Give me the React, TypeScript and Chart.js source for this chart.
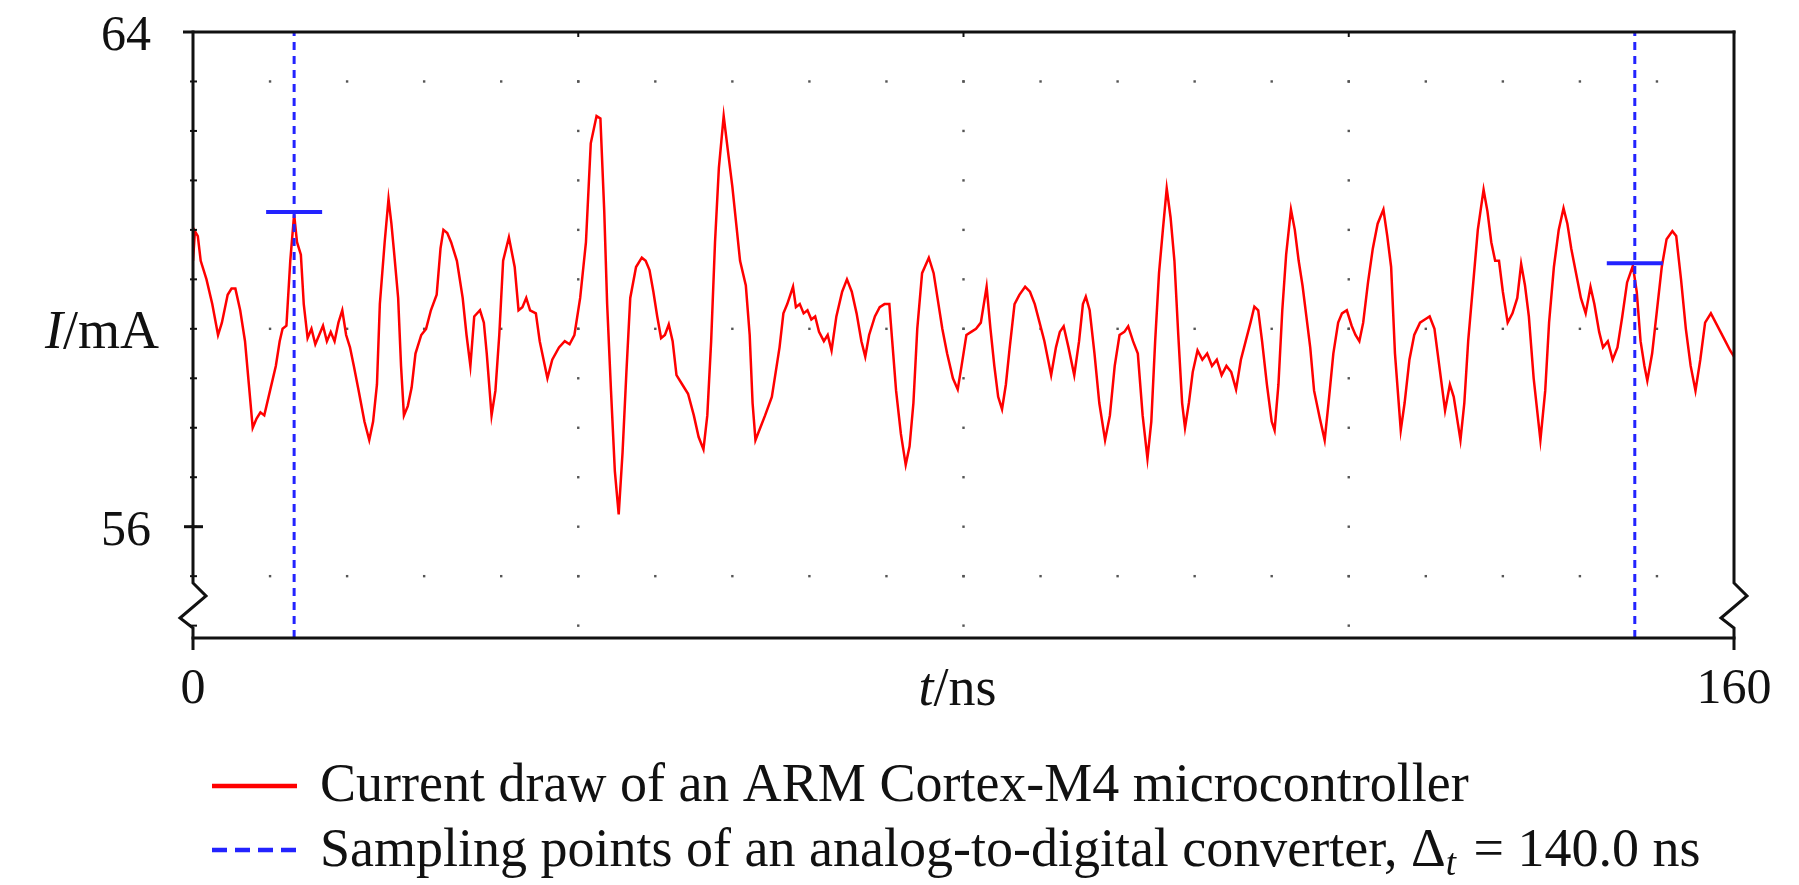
import React, { useEffect, useRef } from "react";
import { Chart, registerables } from "chart.js";

Chart.register(...registerables);

// ---------- data ----------
const traceTimeNs = [
  0.0, 0.2, 0.5, 0.8, 1.4, 2.0, 2.6, 3.0, 3.6, 4.0, 4.4, 4.9, 5.4, 5.8, 6.2, 6.6, 7.0, 7.4, 8.0, 8.6,
  9.0, 9.3, 9.7, 10.1, 10.5, 10.8, 11.2, 11.5, 11.9, 12.3, 12.7, 13.1, 13.5, 13.9, 14.3, 14.7, 15.1, 15.5, 15.9, 16.3,
  16.7, 17.2, 17.8, 18.3, 18.7, 19.1, 19.4, 19.9, 20.3, 20.6, 20.9, 21.3, 21.6, 21.9, 22.3, 22.7, 23.1, 23.7, 24.2, 24.7,
  25.3, 25.7, 26.0, 26.4, 26.8, 27.4, 28.0, 28.4, 28.8, 29.2, 29.8, 30.2, 30.5, 31.0, 31.4, 31.8, 32.2, 32.8, 33.4, 33.8,
  34.2, 34.6, 35.0, 35.6, 36.0, 36.8, 37.3, 38.0, 38.6, 39.1, 39.6, 40.2, 40.8, 41.3, 41.9, 42.3, 42.7, 43.0, 43.4, 43.8,
  44.2, 44.6, 45.0, 45.4, 46.0, 46.6, 47.0, 47.4, 47.8, 48.2, 48.6, 49.0, 49.4, 49.8, 50.2, 50.8, 51.4, 52.0, 52.5, 53.0,
  53.4, 53.8, 54.2, 54.6, 55.1, 55.6, 56.0, 56.4, 56.8, 57.4, 57.8, 58.1, 58.4, 58.9, 59.4, 60.1, 60.9, 61.3, 61.7, 62.3,
  62.6, 63.0, 63.4, 63.8, 64.2, 64.6, 65.0, 65.5, 65.9, 66.3, 66.8, 67.4, 67.9, 68.4, 68.9, 69.4, 69.8, 70.2, 70.8, 71.3,
  71.8, 72.3, 72.6, 73.0, 73.5, 74.0, 74.4, 74.8, 75.2, 75.7, 76.4, 76.9, 77.3, 77.8, 78.3, 78.9, 79.4, 79.8, 80.3, 80.8,
  81.3, 81.8, 82.4, 82.8, 83.2, 83.6, 84.0, 84.4, 84.8, 85.3, 85.8, 86.4, 86.9, 87.4, 87.9, 88.4, 89.1, 89.6, 90.0, 90.4,
  90.9, 91.5, 92.0, 92.4, 92.7, 93.1, 93.6, 94.1, 94.7, 95.2, 95.7, 96.2, 96.7, 97.1, 97.6, 98.1, 98.6, 99.1, 99.5, 99.9,
  100.3, 100.7, 101.1, 101.5, 101.9, 102.3, 102.7, 103.0, 103.4, 103.8, 104.3, 104.8, 105.3, 105.8, 106.3, 106.8, 107.3, 107.8, 108.3, 108.8,
  109.3, 109.8, 110.2, 110.6, 111.0, 111.5, 112.0, 112.3, 112.7, 113.1, 113.5, 114.0, 114.4, 114.8, 115.2, 115.6, 116.0, 116.4, 117.0, 117.5,
  117.9, 118.4, 118.9, 119.3, 119.8, 120.3, 120.7, 121.1, 121.5, 122.0, 122.5, 123.0, 123.6, 124.0, 124.4, 124.8, 125.4, 125.8, 126.3, 126.8,
  127.4, 127.9, 128.4, 128.9, 129.4, 130.0, 130.5, 130.9, 131.6, 132.0, 132.4, 132.9, 133.4, 134.0, 134.4, 134.8, 135.2, 135.6, 136.0, 136.5,
  137.0, 137.5, 137.9, 138.3, 138.7, 139.2, 139.9, 140.4, 140.8, 141.3, 141.8, 142.3, 142.7, 143.1, 143.6, 144.1, 144.6, 145.1, 145.5, 146.0,
  146.4, 146.9, 147.4, 147.9, 148.4, 148.9, 149.5, 149.9, 150.3, 150.7, 151.0, 151.5, 152.0, 152.5, 153.0, 153.6, 154.0, 154.5, 155.0, 155.5,
  156.0, 156.5, 157.0, 157.6, 158.1, 158.6, 159.1, 159.6, 160.0,
];

const traceCurrentMa = [
  60.3, 60.78, 60.7, 60.3, 60.0, 59.6, 59.1, 59.3, 59.75, 59.85, 59.85, 59.5, 59.0, 58.3, 57.6, 57.75, 57.85, 57.8, 58.2, 58.6,
  59.0, 59.2, 59.25, 60.3, 61.05, 60.6, 60.4, 59.6, 59.05, 59.2, 58.95, 59.1, 59.25, 59.0, 59.15, 59.0, 59.3, 59.5, 59.1, 58.9,
  58.6, 58.2, 57.7, 57.4, 57.7, 58.3, 59.6, 60.6, 61.3, 60.9, 60.4, 59.7, 58.6, 57.8, 57.95, 58.25, 58.8, 59.1, 59.2, 59.5,
  59.75, 60.5, 60.8, 60.75, 60.6, 60.3, 59.7, 59.1, 58.6, 59.4, 59.5, 59.3, 58.8, 57.8, 58.2, 59.1, 60.3, 60.68, 60.2, 59.5,
  59.55, 59.7, 59.5, 59.45, 59.0, 58.4, 58.7, 58.9, 59.0, 58.95, 59.1, 59.7, 60.6, 62.2, 62.64, 62.6, 61.1, 59.6, 58.2, 56.9,
  56.2, 57.2, 58.5, 59.7, 60.2, 60.35, 60.3, 60.15, 59.8, 59.4, 59.05, 59.1, 59.27, 59.0, 58.45, 58.3, 58.15, 57.8, 57.45, 57.25,
  57.8, 59.0, 60.6, 61.8, 62.64, 62.0, 61.5, 60.9, 60.3, 59.9, 59.1, 58.0, 57.4, 57.6, 57.8, 58.1, 58.9, 59.45, 59.6, 59.88,
  59.55, 59.6, 59.45, 59.5, 59.35, 59.4, 59.15, 59.0, 59.1, 58.85, 59.4, 59.8, 60.0, 59.8, 59.45, 59.0, 58.75, 59.1, 59.4, 59.55,
  59.6, 59.6, 59.0, 58.2, 57.5, 57.0, 57.3, 58.0, 59.2, 60.1, 60.35, 60.1, 59.7, 59.2, 58.8, 58.4, 58.22, 58.6, 59.1, 59.15,
  59.2, 59.3, 59.88, 59.2, 58.6, 58.1, 57.9, 58.3, 58.9, 59.6, 59.75, 59.88, 59.8, 59.6, 59.3, 59.0, 58.45, 58.9, 59.15, 59.24,
  58.9, 58.45, 59.0, 59.6, 59.72, 59.5, 58.8, 58.0, 57.4, 57.8, 58.6, 59.1, 59.15, 59.24, 59.0, 58.8, 57.8, 57.1, 57.7, 59.0,
  60.1, 60.8, 61.47, 61.0, 60.3, 59.1, 58.0, 57.6, 58.0, 58.5, 58.85, 58.7, 58.8, 58.6, 58.7, 58.45, 58.6, 58.5, 58.22, 58.7,
  59.0, 59.3, 59.56, 59.5, 59.0, 58.3, 57.7, 57.56, 58.3, 59.5, 60.4, 61.13, 60.8, 60.3, 59.9, 59.4, 58.9, 58.2, 57.75, 57.4,
  58.0, 58.8, 59.3, 59.45, 59.5, 59.25, 59.1, 59.0, 59.3, 59.95, 60.5, 60.9, 61.13, 60.7, 60.2, 58.8, 57.56, 58.0, 58.7, 59.1,
  59.3, 59.35, 59.4, 59.2, 58.6, 57.88, 58.3, 58.1, 57.4, 58.0, 59.0, 59.9, 60.8, 61.45, 61.1, 60.6, 60.3, 60.3, 59.8, 59.3,
  59.45, 59.7, 60.25, 59.9, 59.4, 58.4, 57.4, 58.2, 59.3, 60.2, 60.8, 61.15, 60.9, 60.5, 60.1, 59.7, 59.45, 59.88, 59.6, 59.15,
  58.9, 59.0, 58.7, 58.9, 59.4, 59.95, 60.22, 59.8, 59.0, 58.6, 58.36, 58.8, 59.5, 60.2, 60.65, 60.78, 60.7, 60.0, 59.2, 58.6,
  58.2, 58.7, 59.3, 59.45, 59.3, 59.15, 59.0, 58.85, 58.75,
];

const sampleTimesNs = [10.5, 149.7];
const sampleCurrentsMa = [61.09, 60.26];

const xRange = [0, 160];
const yRange = [54.2, 64];
const xTickValues = [0, 160];
const yTickValues = [64, 56];

const dotRowValues = [63.2, 59.2, 55.2];
const dotColumnValues = [40, 80, 120];
const minorStepNs = 8;
const minorStepMa = 0.8;
const breakTickValue = 56;

const xTitleParts = ["t", "/ns"];
const yTitleParts = ["I", "/mA"];
const legendCurrentLabel = "Current draw of an ARM Cortex-M4 microcontroller";
const legendSamplingLabel = "Sampling points of an analog-to-digital converter, \u0394";
const legendSamplingSub = "t";
const legendSamplingTail = " = 140.0 ns";

// ---------- styling ----------
const SERIF = '"Liberation Serif", "Times New Roman", "DejaVu Serif", serif';
const INK = "#111111";
const RED = "rgb(255,0,0)";
const BLUE = "rgb(35,35,255)";

function line(ctx: CanvasRenderingContext2D, x1: number, y1: number, x2: number, y2: number) {
  ctx.beginPath();
  ctx.moveTo(x1, y1);
  ctx.lineTo(x2, y2);
  ctx.stroke();
}

const decorPlugin = {
  id: "decor",
  beforeDatasetsDraw(chart: any) {
    const { ctx, scales } = chart;
    const x = scales.x;
    const y = scales.y;
    ctx.save();
    ctx.fillStyle = "#555";
    for (const v of dotRowValues) {
      const py = y.getPixelForValue(v);
      for (let k = 1; k * minorStepNs < xRange[1]; k++) {
        const px = x.getPixelForValue(k * minorStepNs);
        ctx.fillRect(px - 1.2, py - 1.2, 2.4, 2.4);
      }
    }
    for (const t of dotColumnValues) {
      const px = x.getPixelForValue(t);
      for (let k = 1; yRange[1] - k * minorStepMa >= yRange[0]; k++) {
        const py = y.getPixelForValue(yRange[1] - k * minorStepMa);
        ctx.fillRect(px - 1.2, py - 1.2, 2.4, 2.4);
      }
    }
    ctx.restore();
  },
  afterDraw(chart: any) {
    const { ctx, chartArea: a, scales } = chart;
    const x = scales.x;
    const y = scales.y;
    const L = a.left;
    const R = a.right;
    const T = a.top;
    const B = a.bottom;
    ctx.save();
    ctx.strokeStyle = INK;
    ctx.lineWidth = 3;
    ctx.lineJoin = "miter";
    ctx.lineCap = "butt";

    // top & bottom
    line(ctx, L - 10, T, R + 1.5, T);
    line(ctx, L - 1.5, B, R + 1.5, B);

    // left & right axes with break marks
    for (const X of [L, R]) {
      ctx.beginPath();
      ctx.moveTo(X, T - 1.5);
      ctx.lineTo(X, B - 55);
      ctx.lineTo(X + 13, B - 42);
      ctx.lineTo(X - 13, B - 20);
      ctx.lineTo(X, B - 10);
      ctx.lineTo(X, B + 12);
      ctx.stroke();
    }

    // cross tick at 56
    const y56 = y.getPixelForValue(breakTickValue);
    line(ctx, L - 9, y56, L + 10, y56);

    // minor ticks on left axis
    ctx.lineWidth = 2;
    for (let k = 1; yRange[1] - k * minorStepMa >= yRange[0]; k++) {
      const py = y.getPixelForValue(yRange[1] - k * minorStepMa);
      line(ctx, L - 3, py, L + 4, py);
    }
    for (const t of dotColumnValues) {
      const px = x.getPixelForValue(t);
      line(ctx, px, T, px, T + 5);
    }

    // axis titles
    ctx.fillStyle = INK;
    ctx.textBaseline = "alphabetic";
    const titleSize = 54;
    ctx.font = `italic ${titleSize}px ${SERIF}`;
    const wI = ctx.measureText(yTitleParts[0]).width;
    ctx.font = `${titleSize}px ${SERIF}`;
    const wRest = ctx.measureText(yTitleParts[1]).width;
    const yTitleRight = L - 34;
    const yTitleBase = T + 316;
    ctx.font = `italic ${titleSize}px ${SERIF}`;
    ctx.fillText(yTitleParts[0], yTitleRight - wI - wRest, yTitleBase);
    ctx.font = `${titleSize}px ${SERIF}`;
    ctx.fillText(yTitleParts[1], yTitleRight - wRest, yTitleBase);

    ctx.font = `italic ${titleSize}px ${SERIF}`;
    const wt = ctx.measureText(xTitleParts[0]).width;
    ctx.font = `${titleSize}px ${SERIF}`;
    const wns = ctx.measureText(xTitleParts[1]).width;
    const xTitleCenter = (L + R) / 2 - 6;
    const xTitleBase = B + 67;
    const xStart = xTitleCenter - (wt + wns) / 2;
    ctx.font = `italic ${titleSize}px ${SERIF}`;
    ctx.fillText(xTitleParts[0], xStart, xTitleBase);
    ctx.font = `${titleSize}px ${SERIF}`;
    ctx.fillText(xTitleParts[1], xStart + wt, xTitleBase);

    // legend
    const legX1 = 212;
    const legX2 = 297;
    const legTextX = 320;
    const leg1Y = 786;
    const leg2Y = 850;
    ctx.lineWidth = 4.5;
    ctx.strokeStyle = RED;
    line(ctx, legX1, leg1Y, legX2, leg1Y);
    ctx.strokeStyle = BLUE;
    ctx.setLineDash([15, 8]);
    line(ctx, legX1, leg2Y, legX2, leg2Y);
    ctx.setLineDash([]);

    const legSize = 54;
    ctx.fillStyle = INK;
    ctx.font = `${legSize}px ${SERIF}`;
    ctx.fillText(legendCurrentLabel, legTextX, leg1Y + 15);
    const base2 = leg2Y + 16;
    ctx.fillText(legendSamplingLabel, legTextX, base2);
    let cx = legTextX + ctx.measureText(legendSamplingLabel).width;
    ctx.font = `italic ${Math.round(legSize * 0.68)}px ${SERIF}`;
    ctx.fillText(legendSamplingSub, cx, base2 + 9);
    cx += ctx.measureText(legendSamplingSub).width + 4;
    ctx.font = `${legSize}px ${SERIF}`;
    ctx.fillText(legendSamplingTail, cx, base2);

    ctx.restore();
  },
};

export default function App() {
  const canvasRef = useRef<HTMLCanvasElement | null>(null);

  useEffect(() => {
    document.body.style.margin = "0";
    const canvas = canvasRef.current;
    if (!canvas) return;

    const trace = traceTimeNs.map((t, i) => ({ x: t, y: traceCurrentMa[i] }));
    const samplingLines = sampleTimesNs.map((t) => ({
      type: "line" as const,
      label: "sampling " + t,
      data: [
        { x: t, y: yRange[0] },
        { x: t, y: yRange[1] },
      ],
      borderColor: BLUE,
      borderWidth: 3,
      borderDash: [8, 6],
      pointRadius: 0,
      tension: 0,
    }));

    const chart = new Chart(canvas, {
      type: "line",
      data: {
        datasets: [
          {
            type: "scatter" as const,
            label: "samples",
            data: sampleTimesNs.map((t, i) => ({ x: t, y: sampleCurrentsMa[i] })),
            pointStyle: "line",
            pointRadius: 28,
            pointBorderWidth: 4,
            borderColor: BLUE,
            backgroundColor: BLUE,
            showLine: false,
          } as any,
          ...samplingLines,
          {
            type: "line" as const,
            label: legendCurrentLabel,
            data: trace,
            borderColor: RED,
            borderWidth: 2.5,
            pointRadius: 0,
            tension: 0,
          },
        ],
      },
      options: {
        responsive: false,
        animation: false,
        devicePixelRatio: 1,
        events: [],
        layout: { padding: { top: 25, right: 65, left: 0, bottom: 0 } },
        plugins: { legend: { display: false }, tooltip: { enabled: false }, title: { display: false } },
        scales: {
          x: {
            type: "linear",
            min: xRange[0],
            max: xRange[1],
            grid: { display: false },
            border: { display: false },
            afterBuildTicks: (s: any) => {
              s.ticks = xTickValues.map((v) => ({ value: v }));
            },
            afterFit: (s: any) => {
              s.height = 247;
              s.paddingLeft = 0;
              s.paddingRight = 0;
            },
            ticks: {
              autoSkip: false,
              maxRotation: 0,
              padding: 14,
              color: INK,
              font: { family: SERIF, size: 50 },
              callback: (v: any) => String(v),
            },
          },
          y: {
            type: "linear",
            min: yRange[0],
            max: yRange[1],
            grid: { display: false },
            border: { display: false },
            afterBuildTicks: (s: any) => {
              s.ticks = yTickValues.map((v) => ({ value: v }));
            },
            afterFit: (s: any) => {
              s.width = 193;
              s.paddingTop = 0;
              s.paddingBottom = 0;
            },
            ticks: {
              autoSkip: false,
              padding: 34,
              labelOffset: 5,
              color: INK,
              font: { family: SERIF, size: 50 },
              callback: (v: any) => String(v),
            },
          },
        },
      },
      plugins: [decorPlugin],
    });

    return () => {
      chart.destroy();
    };
  }, []);

  return (
    <div style={{ position: "fixed", left: 0, top: 0, width: 1799, height: 885, background: "#fff" }}>
      <canvas ref={canvasRef} width={1799} height={885} style={{ display: "block", width: 1799, height: 885 }} />
    </div>
  );
}
